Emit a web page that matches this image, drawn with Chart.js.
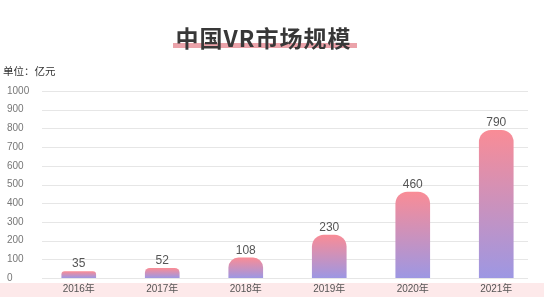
<!DOCTYPE html>
<html>
<head>
<meta charset="utf-8">
<script src="https://cdn.jsdelivr.net/npm/chart.js@4"></script>
<style>
  html, body { margin: 0; padding: 0; background: #fff; }
  #wrap { position: relative; width: 544px; height: 297px; overflow: hidden; }
  #chart { position: absolute; left: 0; top: 0; }
  #bar { position: absolute; left: 173px; top: 43px; width: 184px; height: 5px; background: #eba3aa; }
  #title { position: absolute; left: 0; width: 527px; top: 26px; text-align: center;
    font: bold 23px 'Noto Sans CJK SC', sans-serif; line-height: 23px; letter-spacing: 1px; color: #383838; }
  #unit { position: absolute; left: 3px; top: 63px; font: 10.5px 'Noto Sans CJK SC', sans-serif; color: #333; }
</style>
</head>
<body>
<div id="wrap">
  <canvas id="chart" width="544" height="297"></canvas>
  <div id="bar"></div>
  <div id="title">中国VR市场规模</div>
  <div id="unit">单位：亿元</div>
</div>
<script>
const years = ['2016年', '2017年', '2018年', '2019年', '2020年', '2021年'];
const values = [35, 52, 108, 230, 460, 790];
const yTicks = [0, 100, 200, 300, 400, 500, 600, 700, 800, 900, 1000];

const topColor = '#f98c96';
const bottomColor = '#9d97e3';
const font = "'Liberation Sans', 'Noto Sans CJK SC', sans-serif";

// per-bar gradient, pink on top fading to lavender at the base
function barGradient(context) {
  const chart = context.chart;
  const yScale = chart.scales.y;
  if (!chart.chartArea || !yScale) return topColor;
  const top = yScale.getPixelForValue(context.raw);
  const base = yScale.getPixelForValue(0);
  const g = chart.ctx.createLinearGradient(0, top, 0, base);
  g.addColorStop(0, topColor);
  g.addColorStop(1, bottomColor);
  return g;
}

const band = {
  id: 'band',
  beforeDraw(chart) {
    const ctx = chart.ctx;
    ctx.save();
    ctx.fillStyle = '#fde9ea';
    ctx.fillRect(0, 283, chart.width, chart.height - 283);
    ctx.restore();
  }
};

const gridLines = {
  id: 'gridLines',
  beforeDatasetsDraw(chart) {
    const ctx = chart.ctx;
    const y = chart.scales.y;
    ctx.save();
    ctx.strokeStyle = '#e6e6e6';
    ctx.lineWidth = 1;
    ctx.beginPath();
    y.ticks.forEach(t => {
      const py = Math.round(y.getPixelForValue(t.value)) + 0.5;
      ctx.moveTo(42, py);
      ctx.lineTo(528, py);
    });
    ctx.stroke();
    ctx.restore();
  }
};

const valueLabels = {
  id: 'valueLabels',
  afterDatasetsDraw(chart) {
    const ctx = chart.ctx;
    const meta = chart.getDatasetMeta(0);
    ctx.save();
    ctx.font = '12px ' + font;
    ctx.fillStyle = '#555';
    ctx.textAlign = 'center';
    ctx.textBaseline = 'alphabetic';
    meta.data.forEach((bar, i) => {
      ctx.fillText(String(values[i]), bar.x, bar.y - 4);
    });
    ctx.restore();
  }
};

new Chart(document.getElementById('chart'), {
  type: 'bar',
  data: {
    labels: years,
    datasets: [{
      data: values,
      backgroundColor: barGradient,
      borderWidth: 0,
      barThickness: 34,
      borderRadius: { topLeft: 12, topRight: 12, bottomLeft: 0, bottomRight: 0 },
      borderSkipped: 'start'
    }]
  },
  options: {
    responsive: false,
    animation: false,
    layout: { padding: { top: 91, left: 7, right: 6, bottom: 2 } },
    plugins: {
      legend: { display: false },
      tooltip: { enabled: false },
      title: { display: false }
    },
    scales: {
      x: {
        afterFit: (scale) => { scale.height = 17; },
        grid: { display: false, drawTicks: false },
        border: { display: false },
        ticks: { color: '#555', font: { size: 10, family: font }, padding: 5 }
      },
      y: {
        min: 0,
        max: 1000,
        afterBuildTicks: (scale) => { scale.ticks = yTicks.map(v => ({ value: v })); },
        afterFit: (scale) => { scale.width = 30; },
        grid: { display: false, drawTicks: false },
        border: { display: false },
        ticks: {
          color: '#777',
          font: { size: 10, family: font },
          padding: 8,
          crossAlign: 'far',
          callback: (v) => String(v)
        }
      }
    }
  },
  plugins: [band, gridLines, valueLabels]
});
</script>
</body>
</html>
